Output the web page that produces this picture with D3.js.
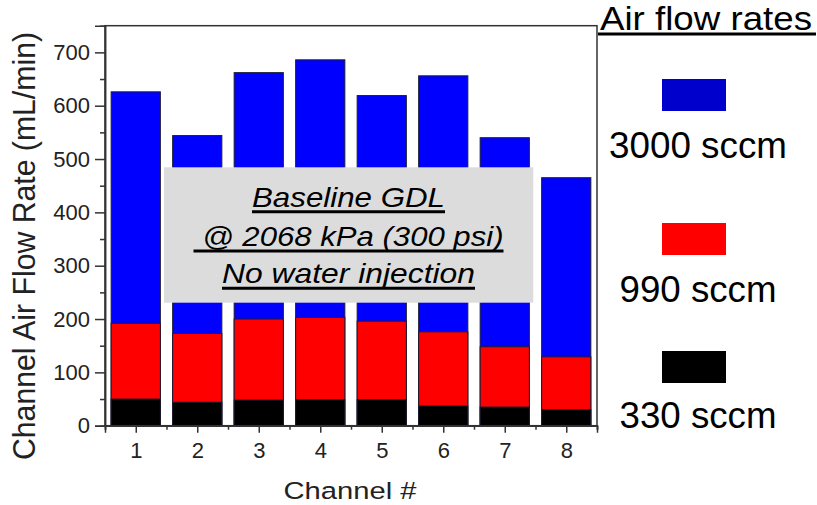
<!DOCTYPE html>
<html>
<head>
<meta charset="utf-8">
<script src="https://cdn.jsdelivr.net/npm/d3@7"></script>
<style>
  html, body { margin: 0; padding: 0; background: #fff; }
  svg { display: block; font-family: "Liberation Sans", Arial, sans-serif; }
</style>
</head>
<body>
<svg id="chart" width="817" height="505"></svg>
<script>
// Channel air flow rate (mL/min) per channel at three inlet air flow rates
const channels = [1, 2, 3, 4, 5, 6, 7, 8];
const flow3000 = [626, 544, 662, 686, 619, 656, 540, 465];
const flow990  = [192, 173, 200, 203, 196, 176, 148, 129];
const flow330  = [50, 44, 48, 49, 49, 37, 35, 30];
const yTicks = [0, 100, 200, 300, 400, 500, 600, 700];
const yMinorTicks = [50, 150, 250, 350, 450, 550, 650];
const xMinorTicks = [0.5, 1.5, 2.5, 3.5, 4.5, 5.5, 6.5, 7.5, 8.5];
const seriesNames = ["3000 sccm", "990 sccm", "330 sccm"];
const noteLines = ["Baseline GDL", "\u00a0@ 2068 kPa (300 psi)", "No water injection"];

const svg = d3.select("#chart");
const plotL = 105, plotR = 597, plotT = 25.7, plotB = 425.7;

const x = d3.scaleLinear().domain([0.5, 8.5]).range([plotL, plotR]);
const y = d3.scaleLinear().domain([0, 750]).range([plotB, plotT]);
const barW = (x(2) - x(1)) * 0.8;

// plot background
svg.append("rect")
  .attr("x", plotL).attr("y", plotT)
  .attr("width", plotR - plotL).attr("height", plotB - plotT)
  .attr("fill", "#fff");

// overlapping bars, drawn highest series first
const series = [
  { values: flow3000, fill: "#0000ff" },
  { values: flow990,  fill: "#ff0000" },
  { values: flow330,  fill: "#000000" }
];
series.forEach(s => {
  svg.append("g").selectAll("rect")
    .data(channels.map((c, i) => ({ c, v: s.values[i] })))
    .join("rect")
    .attr("x", d => x(d.c) - barW / 2)
    .attr("y", d => y(d.v))
    .attr("width", barW)
    .attr("height", d => y(0) - y(d.v))
    .attr("fill", s.fill)
    .attr("stroke", "#1c1c30")
    .attr("stroke-width", 1);
});

// frame
svg.append("rect")
  .attr("x", plotL).attr("y", plotT)
  .attr("width", plotR - plotL).attr("height", plotB - plotT)
  .attr("fill", "none")
  .attr("stroke", "#333")
  .attr("stroke-width", 1.5);

// y axis
svg.append("g")
  .attr("transform", `translate(${plotL},0)`)
  .call(d3.axisLeft(y).tickValues(yTicks).tickSize(10).tickPadding(5).tickFormat(d3.format("d")));
svg.append("g")
  .attr("transform", `translate(${plotL},0)`)
  .call(d3.axisLeft(y).tickValues(yMinorTicks).tickSize(5).tickFormat(""));

// x axis
svg.append("g")
  .attr("transform", `translate(0,${plotB})`)
  .call(d3.axisBottom(x).tickValues(channels).tickSize(7).tickPadding(10).tickFormat(d3.format("d")));
svg.append("g")
  .attr("transform", `translate(0,${plotB})`)
  .call(d3.axisBottom(x).tickValues(xMinorTicks).tickSize(4).tickFormat(""));

svg.selectAll(".domain").attr("stroke", "#333").attr("stroke-width", 1.5);
svg.selectAll(".tick line").attr("stroke", "#333").attr("stroke-width", 1.5);
svg.selectAll(".tick text")
  .attr("font-family", "Liberation Sans, Arial, sans-serif")
  .attr("font-size", 22)
  .attr("fill", "#222");

// axis titles
svg.append("text")
  .attr("transform", "translate(35,246) rotate(-90)")
  .attr("text-anchor", "middle")
  .attr("font-size", 31)
  .attr("fill", "#222")
  .attr("textLength", 428)
  .attr("lengthAdjust", "spacingAndGlyphs")
  .text("Channel Air Flow Rate (mL/min)");

svg.append("text")
  .attr("x", 350).attr("y", 499)
  .attr("text-anchor", "middle")
  .attr("font-size", 24.5)
  .attr("fill", "#222")
  .attr("textLength", 133)
  .attr("lengthAdjust", "spacingAndGlyphs")
  .text("Channel #");

// note box with test conditions
svg.append("rect")
  .attr("x", 164).attr("y", 167.3)
  .attr("width", 533.3 - 164).attr("height", 302.7 - 167.3)
  .attr("fill", "#dcdcdc");

const noteCx = 348.5;
const noteBase = [206.7, 246, 283.3];
const noteWidth = [193, 310, 253];
noteLines.forEach((t, i) => {
  svg.append("text")
    .attr("x", noteCx).attr("y", noteBase[i])
    .attr("text-anchor", "middle")
    .attr("font-size", 28)
    .attr("font-style", "italic")
    .attr("fill", "#000")
    .attr("textLength", noteWidth[i])
    .attr("lengthAdjust", "spacingAndGlyphs")
    .text(t);
  svg.append("line")
    .attr("x1", noteCx - noteWidth[i] / 2).attr("x2", noteCx + noteWidth[i] / 2)
    .attr("y1", noteBase[i] + 5).attr("y2", noteBase[i] + 5)
    .attr("stroke", "#000").attr("stroke-width", 3);
});

// legend
svg.append("text")
  .attr("x", 600).attr("y", 30)
  .attr("font-size", 33)
  .attr("fill", "#000")
  .attr("textLength", 212)
  .attr("lengthAdjust", "spacingAndGlyphs")
  .text("Air flow rates");
svg.append("line")
  .attr("x1", 598).attr("x2", 816)
  .attr("y1", 34).attr("y2", 34)
  .attr("stroke", "#000").attr("stroke-width", 3);

const legendSwatch = ["#0000cc", "#ff0000", "#000000"];
const swatchY = [79, 223, 351];
const labelY = [157.7, 301.7, 428.3];
const labelW = [178, 157, 157];
seriesNames.forEach((name, i) => {
  svg.append("rect")
    .attr("x", 662).attr("y", swatchY[i])
    .attr("width", 64).attr("height", 32)
    .attr("fill", legendSwatch[i]);
  svg.append("text")
    .attr("x", 698).attr("y", labelY[i])
    .attr("text-anchor", "middle")
    .attr("font-size", 36)
    .attr("fill", "#000")
    .attr("textLength", labelW[i])
    .attr("lengthAdjust", "spacingAndGlyphs")
    .text(name);
});
</script>
</body>
</html>
